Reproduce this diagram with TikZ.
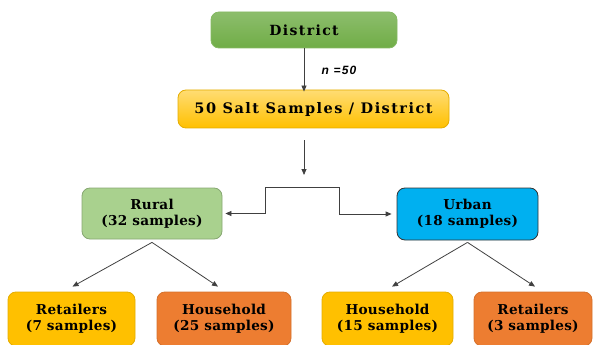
\documentclass[tikz,border=0pt]{standalone}
\usepackage{fontspec}
\setmainfont{DejaVu Serif}
\newfontfamily\labelfont{Liberation Sans}
\usepackage{tikz}
\usetikzlibrary{arrows.meta}
\usetikzlibrary{calc}

\definecolor{distgreen}{HTML}{70AD47}
\definecolor{ruralgreen}{HTML}{A9D18E}
\definecolor{urbanblue}{HTML}{00B0F0}
\definecolor{goldbox}{HTML}{FFC000}
\definecolor{orangebox}{HTML}{ED7D31}

\tikzset{
	box/.style={rounded corners=8pt, align=center, font=\bfseries\fontsize{13.6}{16}\selectfont\addfontfeature{LetterSpace=2}, line width=0.8pt},
	arr/.style={-{Triangle[length=6pt,width=5pt]}, draw=black!75, line width=0.8pt},
}

\begin{document}
\begin{tikzpicture}[x=1pt, y=-1pt]
	\useasboundingbox (0, 0) rectangle (598, 345);

	% top of the tree
	\node[box, draw=distgreen!85!white, top color=distgreen!80!white, bottom color=distgreen, minimum width=186pt, minimum height=36pt, font=\bfseries\fontsize{14}{16}\selectfont\addfontfeature{LetterSpace=10}] (district) at (304, 30) {District};
	\node[box, draw=goldbox!90!black, top color=goldbox!55!white, bottom color=goldbox, minimum width=271pt, minimum height=38pt, font=\bfseries\fontsize{14.5}{16}\selectfont\addfontfeature{LetterSpace=10}] (salt) at (313.5, 109) {50 Salt Samples / District};

	\draw[arr] (district.south) -- node[right=14pt, font=\labelfont\bfseries\itshape\fontsize{12}{14}\selectfont\addfontfeature{LetterSpace=10}] {n =50} ([yshift=-2pt]salt.north -| district.south);

	% split
	\coordinate (tip) at (304, 175);
	\coordinate (fork) at (304, 187);
	\draw[arr] (salt.south -| tip) ++(0, 12) -- (tip);

	\node[box, draw=ruralgreen!80!black, fill=ruralgreen, minimum width=140pt, minimum height=51pt] (rural) at (152, 213.5) {Rural\\(32 samples)};
	\node[box, draw=black!80, fill=urbanblue, minimum width=141pt, minimum height=52pt] (urban) at (467.5, 214) {Urban\\(18 samples)};

	\draw[arr, shorten >=3pt] (fork) -| ([xshift=43pt]rural.east) -- (rural.east);
	\draw[arr, shorten >=5pt] (fork) -| ([xshift=-57pt]urban.west) -- (urban.west);

	% bottom row
	\node[box, draw=goldbox!90!black, fill=goldbox, minimum width=127pt, minimum height=54pt] (retrural) at (71.5, 319) {Retailers\\(7 samples)};
	\node[box, draw=orangebox!90!black, fill=orangebox, minimum width=134pt, minimum height=54pt] (hhrural) at (224, 319) {Household\\(25 samples)};
	\node[box, draw=goldbox!90!black, fill=goldbox, minimum width=131pt, minimum height=54pt] (hhurban) at (387.5, 319) {Household\\(15 samples)};
	\node[box, draw=orangebox!90!black, fill=orangebox, minimum width=118pt, minimum height=54pt] (returban) at (533, 319) {Retailers\\(3 samples)};

	\draw[arr] ([yshift=-3pt]rural.south) -- ([xshift=1pt, yshift=5pt]retrural.north);
	\draw[arr] ([yshift=-3pt]rural.south) -- ([xshift=-6pt, yshift=5pt]hhrural.north);
	\draw[arr] ([yshift=-2pt]urban.south) -- ([xshift=4.5pt, yshift=5pt]hhurban.north);
	\draw[arr] ([yshift=-2pt]urban.south) -- ([xshift=2pt, yshift=5pt]returban.north);
\end{tikzpicture}
\end{document}
